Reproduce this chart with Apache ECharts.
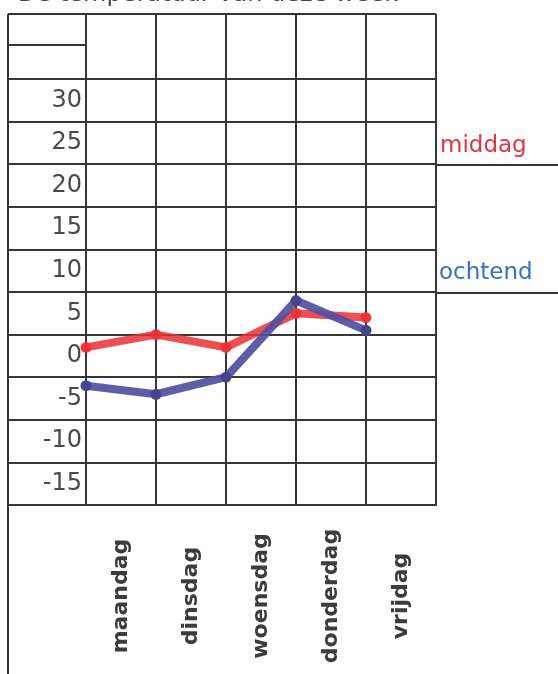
<!DOCTYPE html>
<html>
<head>
<meta charset="utf-8">
<script src="https://cdn.jsdelivr.net/npm/echarts@6/dist/echarts.min.js"></script>
<style>
html,body{margin:0;padding:0;background:#fff;}
#chart{width:558px;height:674px;}
</style>
</head>
<body>
<div id="chart"></div>
<script>
const days = ['maandag', 'dinsdag', 'woensdag', 'donderdag', 'vrijdag'];
const yTickLabels = ['-15', '-10', '-5', '0', '5', '10', '15', '20', '25', '30'];
const middag = [1, 2.5, 1, 5, 4.5];
const ochtend = [-3.5, -4.5, -2.5, 6.5, 3];
const titleText = 'De temperatuur van deze week';

const lineColor = '#363636';
const chart = echarts.init(document.getElementById('chart'), null, {renderer: 'canvas'});

const option = {
  backgroundColor: '#ffffff',
  animation: false,
  title: {
    text: titleText,
    left: 13,
    top: -22,
    textStyle: {fontFamily: 'DejaVu Sans', fontSize: 24, fontWeight: 'normal', color: '#444'}
  },
  legend: [
    {data: ['middag'], left: 430, top: 130, icon: 'none', itemWidth: 0, itemGap: 0, selectedMode: false,
     textStyle: {fontFamily: 'DejaVu Sans', fontSize: 23, color: '#e23544'}},
    {data: ['ochtend'], left: 429, top: 257, icon: 'none', itemWidth: 0, itemGap: 0, selectedMode: false,
     textStyle: {fontFamily: 'DejaVu Sans', fontSize: 23, color: '#3570c8'}}
  ],
  grid: [
    {left: 86, width: 280, top: 79, height: 426, containLabel: false},
    {left: 8, width: 428, top: 79, height: 426, containLabel: false},
    {left: 86, width: 350, top: 14, height: 491, containLabel: false}
  ],
  xAxis: [
    {gridIndex: 0, type: 'category', data: days, boundaryGap: false, show: false},
    {gridIndex: 1, type: 'value', min: 0, max: 1, position: 'bottom',
     axisLine: {show: true, lineStyle: {color: lineColor, width: 2}},
     axisTick: {show: false}, axisLabel: {show: false}, splitLine: {show: false}},
    {gridIndex: 2, type: 'category', data: days, boundaryGap: true, position: 'bottom',
     axisLine: {show: false}, axisTick: {show: false},
     splitLine: {show: true, lineStyle: {color: lineColor, width: 2}},
     axisLabel: {show: true, interval: 0, rotate: 90, align: 'center', verticalAlign: 'middle', margin: 91,
       fontFamily: 'DejaVu Sans', fontWeight: 'bold', fontSize: 22, color: '#3c3c3c'}}
  ],
  yAxis: [
    {gridIndex: 0, type: 'value', min: -17.5, max: 32.5, show: false},
    {gridIndex: 1, type: 'category', data: yTickLabels, boundaryGap: true,
     axisLine: {show: true, lineStyle: {color: lineColor, width: 2}},
     axisTick: {show: false},
     splitLine: {show: true, lineStyle: {color: lineColor, width: 2}},
     axisLabel: {show: true, inside: true, align: 'right', margin: 74, interval: 0,
       fontFamily: 'DejaVu Sans', fontSize: 24, color: '#4a4a4a'}},
    {gridIndex: 2, type: 'value', show: false}
  ],
  graphic: [
    {type: 'line', shape: {x1: 8, y1: 14, x2: 8, y2: 674}, style: {stroke: lineColor, lineWidth: 2}},
    {type: 'line', shape: {x1: 8, y1: 14, x2: 436, y2: 14}, style: {stroke: lineColor, lineWidth: 2}},
    {type: 'line', shape: {x1: 8, y1: 45, x2: 86, y2: 45}, style: {stroke: lineColor, lineWidth: 2}},
    {type: 'line', shape: {x1: 436, y1: 165, x2: 558, y2: 165}, style: {stroke: lineColor, lineWidth: 2}},
    {type: 'line', shape: {x1: 436, y1: 293, x2: 558, y2: 293}, style: {stroke: lineColor, lineWidth: 2}}
  ],
  series: [
    {name: 'middag', type: 'line', xAxisIndex: 0, yAxisIndex: 0, data: middag,
     symbol: 'circle', symbolSize: 11, z: 3,
     itemStyle: {color: 'rgba(236,48,52,0.9)'},
     lineStyle: {color: 'rgba(236,48,52,0.85)', width: 8, cap: 'round', join: 'round'}},
    {name: 'ochtend', type: 'line', xAxisIndex: 0, yAxisIndex: 0, data: ochtend,
     symbol: 'circle', symbolSize: 11, z: 4,
     itemStyle: {color: '#45458f'},
     lineStyle: {color: 'rgba(80,80,160,0.92)', width: 8, cap: 'round', join: 'round'}}
  ]
};
chart.setOption(option);
</script>
</body>
</html>
